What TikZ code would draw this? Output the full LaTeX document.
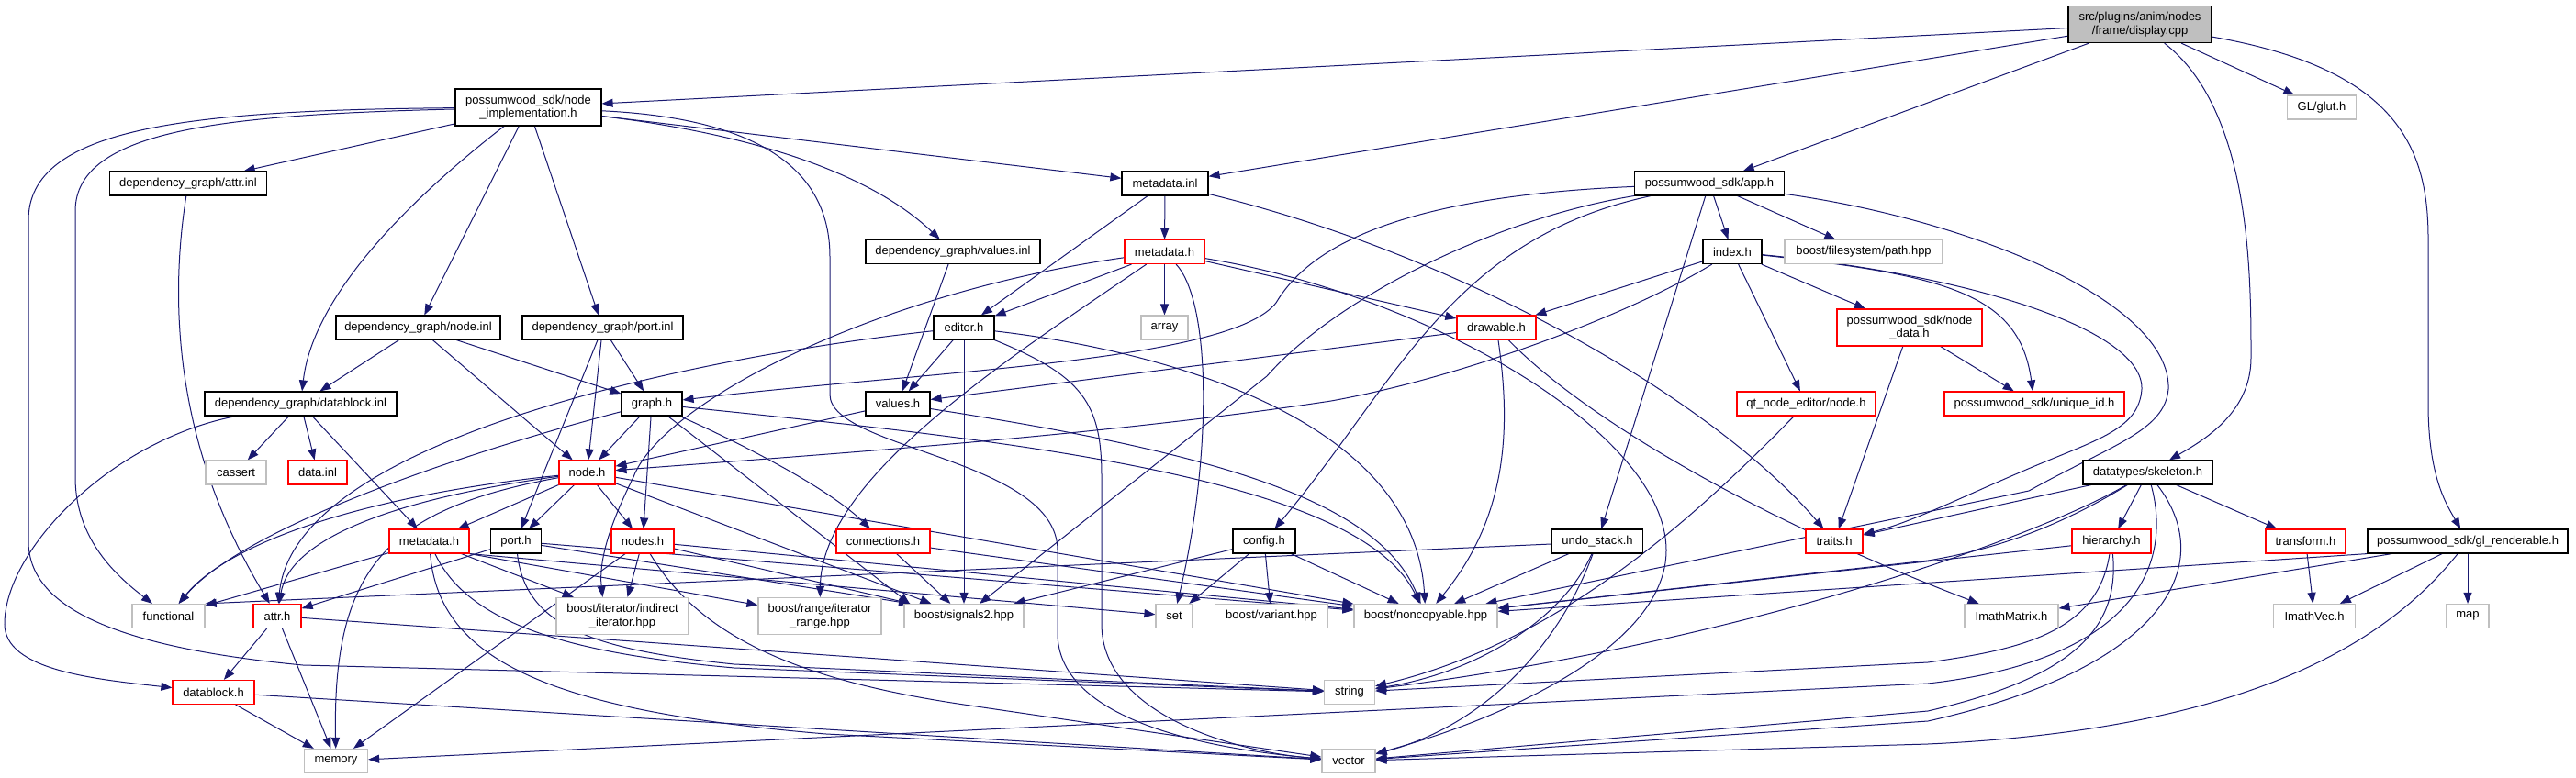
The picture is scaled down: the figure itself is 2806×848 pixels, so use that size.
\documentclass[tikz,border=0pt]{standalone}
\usepackage{fontspec}
\setmainfont{Liberation Sans}
\usetikzlibrary{arrows.meta}
\pgfdeclarelayer{background}
\pgfsetlayers{background,main}
\definecolor{edgec}{HTML}{191970}
\definecolor{greyb}{HTML}{BFBFBF}
\definecolor{redb}{HTML}{FF0000}
\newcommand{\nodefont}{\fontsize{13pt}{14.5pt}\selectfont}
\tikzset{
  bx/.style={draw=black, line width=1.2pt, fill=white, rectangle, inner sep=0pt, minimum height=26pt, align=center, font=\nodefont},
  bx2/.style={bx, minimum height=40pt},
  rb/.style={bx, draw=redb},
  rb2/.style={bx2, draw=redb},
  gb/.style={bx, draw=greyb},
  gb2/.style={bx2, draw=greyb},
  edg/.style={draw=edgec, line width=1pt, -{Triangle[length=12pt,width=9pt]}},
}
\begin{document}
\begin{tikzpicture}[x=1pt,y=-1pt]
\useasboundingbox (0,0) rectangle (2806,848);
% row 1-2
\node[bx2, fill=greyb, minimum width=156pt] (disp) at (2331,26.5) {src/plugins/anim/nodes\\/frame/display.cpp};
\node[bx2, minimum width=159pt] (nimpl) at (575.5,117) {possumwood\_sdk/node\\\_implementation.h};
\node[gb, minimum width=75pt] (glut) at (2529,117) {GL/glut.h};
% row 3
\node[bx, minimum width=171pt] (attrinl) at (205,200) {dependency\_graph/attr.inl};
\node[bx, minimum width=94pt] (mdinl) at (1269,200) {metadata.inl};
\node[bx, minimum width=163pt] (app) at (1862,200) {possumwood\_sdk/app.h};
% row 4
\node[bx, minimum width=190pt] (valinl) at (1038,274.5) {dependency\_graph/values.inl};
\node[rb, minimum width=87pt] (mdtop) at (1268.5,274.5) {metadata.h};
\node[bx, minimum width=64pt] (index) at (1887,274.5) {index.h};
\node[gb, minimum width=172pt] (path) at (2030,274.5) {boost/filesystem/path.hpp};
% row 5
\node[bx, minimum width=179pt] (nodeinl) at (455.5,357) {dependency\_graph/node.inl};
\node[bx, minimum width=175pt] (portinl) at (656.5,357) {dependency\_graph/port.inl};
\node[bx, minimum width=66pt] (editor) at (1050,357) {editor.h};
\node[gb, minimum width=51pt] (array) at (1268.5,357) {array};
\node[rb, minimum width=86pt] (drawable) at (1630,357) {drawable.h};
\node[rb2, minimum width=158pt] (nodedata) at (2080,357) {possumwood\_sdk/node\\\_data.h};
% row 6
\node[bx, minimum width=209pt] (dbinl) at (327.5,440) {dependency\_graph/datablock.inl};
\node[bx, minimum width=66pt] (graph) at (710,440) {graph.h};
\node[bx, minimum width=70pt] (valh) at (978,440) {values.h};
\node[rb, minimum width=151pt] (qtnode) at (1967.5,440) {qt\_node\_editor/node.h};
\node[rb, minimum width=196pt] (uid) at (2216,440) {possumwood\_sdk/unique\_id.h};
% row 7
\node[gb, minimum width=66pt] (cassert) at (257,515) {cassert};
\node[rb, minimum width=64pt] (datainl) at (346,515) {data.inl};
\node[rb, minimum width=61pt] (nodeh) at (639.5,515) {node.h};
\node[bx, minimum width=141pt] (skel) at (2339.5,515) {datatypes/skeleton.h};
% row 8
\node[rb, minimum width=87pt] (mdlow) at (467.5,590) {metadata.h};
\node[bx, minimum width=55pt] (porth) at (562,590) {port.h};
\node[rb, minimum width=68pt] (nodesh) at (700,590) {nodes.h};
\node[rb, minimum width=102pt] (conn) at (962,590) {connections.h};
\node[bx, minimum width=68pt] (config) at (1377,590) {config.h};
\node[bx, minimum width=99pt] (undo) at (1740,590) {undo\_stack.h};
\node[rb, minimum width=62pt] (traits) at (1998,590) {traits.h};
\node[rb, minimum width=86pt] (hier) at (2300,590) {hierarchy.h};
\node[rb, minimum width=87pt] (transf) at (2511.5,590) {transform.h};
\node[bx, minimum width=218pt] (glrend) at (2688,590) {possumwood\_sdk/gl\_renderable.h};
% row 9
\node[gb, minimum width=79pt] (functional) at (183.5,671.5) {functional};
\node[rb, minimum width=52pt] (attrh) at (302,671.5) {attr.h};
\node[gb2, minimum width=144pt] (indirect) at (678,671.5) {boost/iterator/indirect\\\_iterator.hpp};
\node[gb2, minimum width=134pt] (itrange) at (893,671.5) {boost/range/iterator\\\_range.hpp};
\node[gb, minimum width=130pt] (signals) at (1050,671.5) {boost/signals2.hpp};
\node[gb, minimum width=40pt] (set) at (1279,671.5) {set};
\node[gb, minimum width=123pt] (variant) at (1385,671.5) {boost/variant.hpp};
\node[gb, minimum width=156pt] (noncopy) at (1553,671.5) {boost/noncopyable.hpp};
\node[gb, minimum width=102pt] (imatrix) at (2191,671.5) {ImathMatrix.h};
\node[gb, minimum width=89pt] (ivec) at (2521,671.5) {ImathVec.h};
\node[gb, minimum width=46pt] (map) at (2688,671.5) {map};
% row 10-11
\node[rb, minimum width=89pt] (dbh) at (232.5,754.5) {datablock.h};
\node[gb, minimum width=55pt] (string) at (1470,754.5) {string};
\node[gb, minimum width=69pt] (memory) at (366,829.5) {memory};
\node[gb, minimum width=58pt] (vector) at (1469,829.5) {vector};

\begin{pgfonlayer}{background}
% display.cpp
\draw[edg] (disp) -- (nimpl);
\draw[edg] (disp) -- (mdinl);
\draw[edg] (disp) -- (app);
\draw[edg] (disp) -- (glut);
\draw[edg] (disp) .. controls (2452,120) and (2452,300) .. (2452,390) .. controls (2452,450) and (2400,480) .. (skel);
\draw[edg] (disp) .. controls (2610,75) and (2645,160) .. (2645,260) -- (2645,440) .. controls (2645,520) and (2665,550) .. (glrend);
% node_implementation.h
\draw[edg] (nimpl) -- (attrinl);
\draw[edg] (nimpl) -- (nodeinl);
\draw[edg] (nimpl) -- (portinl);
\draw[edg] (nimpl) .. controls (430,230) and (340,330) .. (dbinl);
\draw[edg] (nimpl) .. controls (850,150) and (960,200) .. (valinl);
\draw[edg] (nimpl) -- (mdinl);
\draw[edg] (nimpl) .. controls (250,125) and (82,140) .. (82,230) -- (82,520) .. controls (82,590) and (130,630) .. (functional);
\draw[edg] (nimpl) .. controls (200,120) and (31,140) .. (31,240) -- (31,590) .. controls (31,660) and (120,705) .. (330,725) -- (string);
\draw[edg] (nimpl) .. controls (850,130) and (904,200) .. (904,280) -- (904,430) .. controls (904,490) and (1152,500) .. (1152,600) -- (1152,690) .. controls (1152,780) and (1300,815) .. (vector);
% attr.inl
\draw[edg] (attrinl) .. controls (186,320) and (186,480) .. (attrh);
% metadata.inl
\draw[edg] (mdinl) -- (mdtop);
\draw[edg] (mdinl) -- (editor);
\draw[edg] (mdinl) .. controls (1600,280) and (1870,440) .. (traits);
% app.h
\draw[edg] (app) -- (index);
\draw[edg] (app) -- (path);
\draw[edg] (app) -- (undo);
\draw[edg] (app) .. controls (1580,260) and (1520,420) .. (config);
\draw[edg] (app) .. controls (1620,240) and (1450,330) .. (1380,410) -- (signals);
\draw[edg] (app) .. controls (1500,215) and (1420,280) .. (1390,330) .. controls (1340,395) and (1000,405) .. (graph);
\draw[edg] (app) .. controls (2150,240) and (2365,330) .. (2362,424) .. controls (2358,470) and (2300,485) .. (2210,535) -- (noncopy);
% index.h
\draw[edg] (index) -- (drawable);
\draw[edg] (index) -- (nodedata);
\draw[edg] (index) -- (qtnode);
\draw[edg] (index) .. controls (2120,300) and (2200,320) .. (uid);
\draw[edg] (index) .. controls (2150,300) and (2335,360) .. (2333,424) .. controls (2330,470) and (2280,480) .. (2200,515) .. controls (2130,545) and (2080,570) .. (traits);
\draw[edg] (index) .. controls (1780,340) and (1600,410) .. (1450,437) .. controls (1200,475) and (900,495) .. (nodeh);
% node_data.h
\draw[edg] (nodedata) -- (uid);
\draw[edg] (nodedata) -- (traits);
% metadata.h (top)
\draw[edg] (mdtop) -- (editor);
\draw[edg] (mdtop) -- (array);
\draw[edg] (mdtop) -- (drawable);
\draw[edg] (mdtop) .. controls (1320,330) and (1320,500) .. (set);
\draw[edg] (mdtop) .. controls (1100,390) and (895,520) .. (itrange);
\draw[edg] (mdtop) .. controls (950,320) and (720,440) .. (690,520) .. controls (665,570) and (652,610) .. ([xshift=51pt]indirect.north west);
\draw[edg] (mdtop) .. controls (1550,320) and (1815,470) .. (1815,600) .. controls (1815,700) and (1650,780) .. (vector);
% editor.h
\draw[edg] (editor) -- (valh);
\draw[edg] (editor) -- (signals);
\draw[edg] (editor) .. controls (1180,410) and (1200,440) .. (1200,520) -- (1200,680) .. controls (1200,780) and (1350,820) .. (vector);
\draw[edg] (editor) .. controls (750,390) and (320,480) .. (attrh);
\draw[edg] (editor) .. controls (1250,380) and (1540,450) .. (noncopy);
% values.inl
\draw[edg] (valinl) -- (valh);
% node.inl / port.inl
\draw[edg] (nodeinl) -- (dbinl);
\draw[edg] (nodeinl) -- (nodeh);
\draw[edg] (nodeinl) -- (graph);
\draw[edg] (portinl) -- (graph);
\draw[edg] (portinl) -- (nodeh);
\draw[edg] (portinl) -- (porth);
% datablock.inl
\draw[edg] (dbinl) -- (cassert);
\draw[edg] (dbinl) -- (datainl);
\draw[edg] (dbinl) -- (mdlow);
\draw[edg] (dbinl) .. controls (120,480) and (5,600) .. (5,680) .. controls (5,730) and (100,740) .. (dbh);
% graph.h
\draw[edg] (graph) -- (nodeh);
\draw[edg] (graph) -- (nodesh);
\draw[edg] (graph) .. controls (800,480) and (900,530) .. (conn);
\draw[edg] (graph) -- ([xshift=-59pt]signals.north);
\draw[edg] (graph) .. controls (480,500) and (260,580) .. (functional);
\draw[edg] (graph) .. controls (1100,480) and (1480,520) .. (noncopy);
% values.h
\draw[edg] (valh) -- (nodeh);
\draw[edg] (valh) .. controls (1300,490) and (1500,540) .. (noncopy);
% node.h
\draw[edg] (nodeh) -- (mdlow);
\draw[edg] (nodeh) -- (porth);
\draw[edg] (nodeh) .. controls (420,545) and (315,590) .. (attrh);
\draw[edg] (nodeh) .. controls (400,540) and (250,590) .. (functional);
\draw[edg] (nodeh) .. controls (420,555) and (362,620) .. (memory);
\draw[edg] (nodeh) -- (nodesh);
\draw[edg] (nodeh) -- (signals);
\draw[edg] (nodeh) -- (noncopy);
% metadata.h (lower)
\draw[edg] (mdlow) -- (functional);
\draw[edg] (mdlow) -- (indirect);
\draw[edg] (mdlow.south east) -- (itrange);
\draw[edg] (mdlow.south east) -- (set);
\draw[edg] (mdlow) .. controls (510,680) and (620,712) .. (800,728) -- (string);
\draw[edg] (mdlow) .. controls (478,720) and (600,775) .. (900,800) -- (vector);
% port.h
\draw[edg] (porth) -- (attrh);
\draw[edg] (porth) .. controls (572,680) and (640,708) .. (800,724) -- (string);
\draw[edg] (porth) -- ([xshift=-59pt]signals.north);
\draw[edg] (porth) -- (noncopy);
% nodes.h
\draw[edg] (nodesh) -- (memory);
\draw[edg] (nodesh) -- (indirect);
\draw[edg] (nodesh) .. controls (760,690) and (860,740) .. (1050,768) -- (vector);
\draw[edg] (nodesh) -- (signals);
\draw[edg] (nodesh) -- (noncopy);
% connections.h
\draw[edg] (conn) -- (signals);
\draw[edg] (conn) -- (noncopy);
% config.h
\draw[edg] (config) -- (signals);
\draw[edg] (config) -- (set);
\draw[edg] (config) -- (variant);
\draw[edg] (config) -- (noncopy);
% undo_stack.h
\draw[edg] ([yshift=-3pt]undo.west) -- (functional.north east);
\draw[edg] (undo) -- (noncopy);
\draw[edg] (undo) .. controls (1700,680) and (1600,735) .. (string);
\draw[edg] (undo) .. controls (1700,700) and (1620,790) .. (vector);
% qt_node_editor/node.h
\draw[edg] (qtnode) .. controls (1850,560) and (1700,700) .. (string);
% skeleton.h
\draw[edg] (skel) -- (traits);
\draw[edg] (skel) -- (hier);
\draw[edg] (skel) -- (transf);
\draw[edg] (skel) .. controls (2250,570) and (2180,598) .. (2100,611) -- (noncopy);
\draw[edg] (skel) .. controls (2220,585) and (1900,700) .. (string);
\draw[edg] (skel) .. controls (2420,620) and (2350,730) .. (2100,786) -- (vector);
\draw[edg] (skel) .. controls (2368,620) and (2320,720) .. (2100,745) -- (memory);
% hierarchy.h
\draw[edg] (hier) -- (noncopy);
\draw[edg] (hier) .. controls (2285,690) and (2200,708) .. (2100,722) -- (string);
\draw[edg] (hier) .. controls (2310,690) and (2250,740) .. (2100,775) -- (vector);
% transform.h
\draw[edg] (transf) -- (ivec);
% gl_renderable.h
\draw[edg] (glrend.south west) -- (noncopy);
\draw[edg] (glrend) -- (imatrix);
\draw[edg] (glrend) -- (ivec);
\draw[edg] (glrend) -- (map);
\draw[edg] (glrend) .. controls (2600,700) and (2450,795) .. (2100,811) -- (vector);
% drawable.h
\draw[edg] (drawable) .. controls (1720,450) and (1900,560) .. (imatrix);
\draw[edg] (drawable) .. controls (1645,460) and (1645,560) .. (noncopy);
\draw[edg] (drawable) -- (valh);
% attr.h / datablock.h
\draw[edg] (attrh) -- (dbh);
\draw[edg] (attrh) -- (memory);
\draw[edg] (attrh) -- (string);
\draw[edg] (dbh) -- (memory);
\draw[edg] (dbh) -- (vector);
\end{pgfonlayer}
\end{tikzpicture}
\end{document}
